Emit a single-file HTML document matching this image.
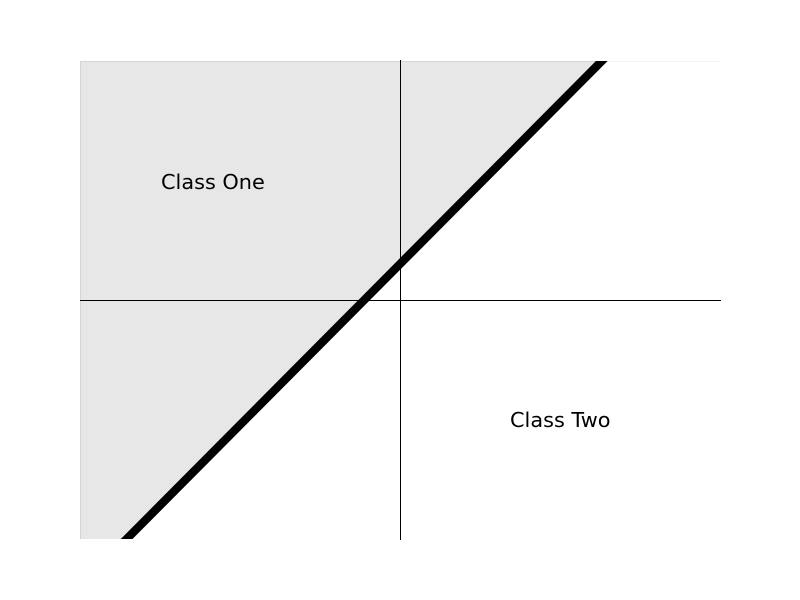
<!DOCTYPE html>
<html lang="en">
<head>
<meta charset="utf-8">
<title>Linear decision boundary</title>
<style>
html,body{margin:0;padding:0;background:#fff;width:800px;height:600px;overflow:hidden}
svg{display:block}
text{font-family:"DejaVu Sans",sans-serif;font-size:20.83px;fill:#000}
</style>
</head>
<body>
<svg id="chart" xmlns="http://www.w3.org/2000/svg" width="800" height="600" viewBox="0 0 800 600">
<defs><clipPath id="plot-clip"><rect x="80" y="61" width="640" height="478"></rect></clipPath></defs>
<rect x="0" y="0" width="800" height="600" fill="#fff"></rect>
<g id="plot" clip-path="url(#plot-clip)"></g>
<g id="axes"></g>
<g id="labels"></g>
</svg>
<script>
const boundaryX = [-4, 4];
const boundaryY = [-3.574, 4.474];
const xDomain = [-4, 4];
const yDomain = [-3, 3];
const classNames = ['Class One', 'Class Two'];
const classLabelX = [-2.9875, 1.375];
const classLabelY = [1.4875, -1.4875];

const NS = 'http://www.w3.org/2000/svg';
const left = 80, right = 720, top_ = 60, bottom = 540;
function sx(v) { return left + (v - xDomain[0]) / (xDomain[1] - xDomain[0]) * (right - left); }
function sy(v) { return bottom - (v - yDomain[0]) / (yDomain[1] - yDomain[0]) * (bottom - top_); }
function make(tag, attrs) {
  const el = document.createElementNS(NS, tag);
  for (const k in attrs) el.setAttribute(k, attrs[k]);
  return el;
}

const plot = document.getElementById('plot');
const axes = document.getElementById('axes');
const labels = document.getElementById('labels');

const regionPts = boundaryX.map((x, i) => (sx(x) + 0.5) + ',' + sy(boundaryY[i]));
regionPts.push((sx(boundaryX[1]) + 0.5) + ',' + (sy(yDomain[1]) + 1.5));
regionPts.push((sx(boundaryX[0]) + 0.5) + ',' + (sy(yDomain[1]) + 1.5));
const region = make('polygon', { points: regionPts.join(' '), fill: '#000', 'fill-opacity': 0.094 });


plot.appendChild(region);

const crossFrac = (yDomain[1] - boundaryY[0]) / (boundaryY[1] - boundaryY[0]);
const crossX = boundaryX[0] + crossFrac * (boundaryX[1] - boundaryX[0]);
const regionEdge = make('polyline', {
  points: (sx(xDomain[0]) + 0.5) + ',' + bottom + ' ' + (sx(xDomain[0]) + 0.5) + ',' + (sy(yDomain[1]) + 1.5) + ' ' + sx(crossX) + ',' + (sy(yDomain[1]) + 1.5),
  fill: 'none', stroke: '#000', 'stroke-opacity': 0.13, 'stroke-width': 1
});


plot.appendChild(regionEdge);

const hAxis = make('line', { x1: left, x2: right + 1, y1: Math.floor(sy(0)) + 0.5, y2: Math.floor(sy(0)) + 0.5, stroke: '#000', 'stroke-width': 1 });


axes.appendChild(hAxis);

const vAxis = make('line', { x1: Math.floor(sx(0)) + 0.5, x2: Math.floor(sx(0)) + 0.5, y1: top_, y2: bottom, stroke: '#000', 'stroke-width': 1 });


axes.appendChild(vAxis);

const boundary = make('line', { x1: sx(boundaryX[0]), y1: sy(boundaryY[0]), x2: sx(boundaryX[1]), y2: sy(boundaryY[1]), stroke: '#000', 'stroke-width': 8.33, 'clip-path': 'url(#plot-clip)' });


axes.appendChild(boundary);

classNames.forEach((name, i) => {
  const t = make('text', { x: sx(classLabelX[i]), y: sy(classLabelY[i]) + 8 });
  t.textContent = name;
  
  
  labels.appendChild(t);
});
</script>
</body>
</html>
